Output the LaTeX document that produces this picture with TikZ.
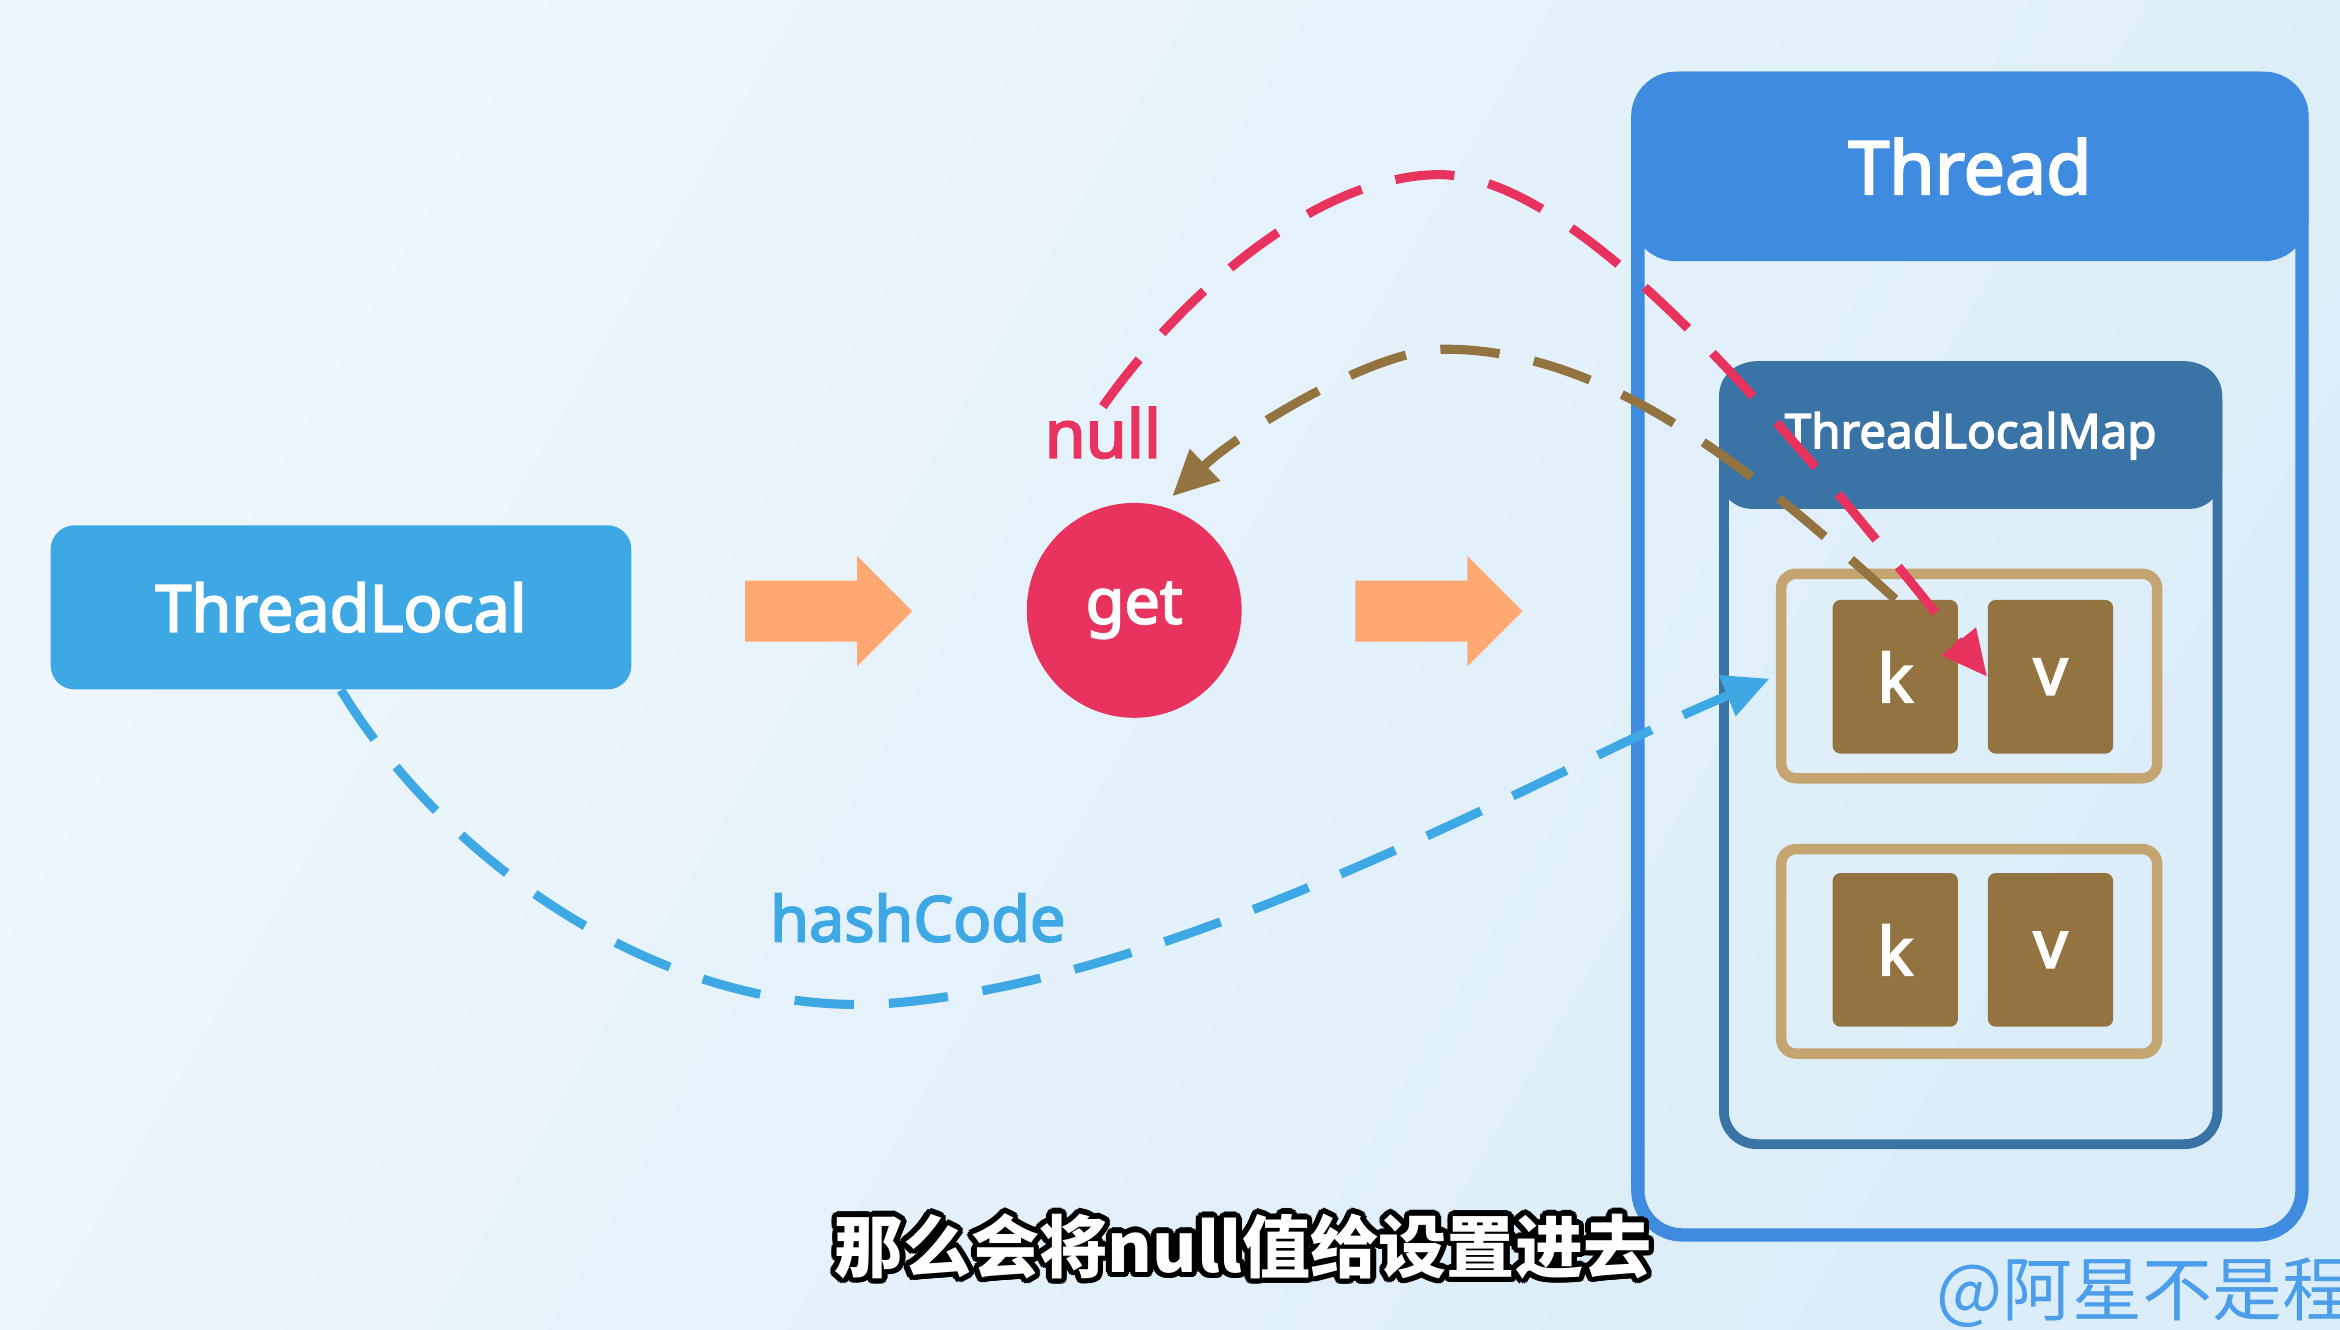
\documentclass[tikz,border=0pt]{standalone}
\usepackage{fontspec}
\setmainfont{Noto Sans}[FakeBold=3]
\newfontfamily\cjk{Noto Sans CJK SC}
\usepackage{contour}
\contourlength{1.6pt}
\usetikzlibrary{arrows.meta,shapes.arrows}

\definecolor{bgl}{HTML}{EEF6FC}
\definecolor{bgr}{HTML}{DBEDF9}
\definecolor{tlblue}{HTML}{3DA8E3}
\definecolor{thblue}{HTML}{3F8BE0}
\definecolor{mapblue}{HTML}{3A74A7}
\definecolor{getred}{HTML}{E8335E}
\definecolor{entrytan}{HTML}{C4A572}
\definecolor{kvbrown}{HTML}{93733F}
\definecolor{flow}{HTML}{FFA872}
\definecolor{markblue}{HTML}{4C9EEA}

\tikzset{
  tlbox/.style={rounded corners=0.24cm, fill=tlblue, text=white, minimum width=5.835cm, minimum height=1.65cm, font=\fontsize{18.5}{20}\selectfont},
  getnode/.style={circle, fill=getred, text=white, minimum size=2.16cm, inner sep=0, font=\fontsize{18}{20}\selectfont},
  flowarrow/.style={single arrow, fill=flow, inner xsep=0, inner ysep=0.3cm, minimum height=1.68cm, minimum width=1.095cm, single arrow head extend=0.2475cm},
  outerbox/.style={draw=thblue, line width=3.8pt, rounded corners=0.45cm},
  outerhead/.style={fill=thblue, rounded corners=0.45cm, text=white, font=\fontsize{21}{24}\selectfont},
  mapbox/.style={draw=mapblue, line width=2.8pt, rounded corners=0.33cm},
  maphead/.style={fill=mapblue, rounded corners=0.33cm, text=white, font=\fontsize{13.6}{16}\selectfont},
  entry/.style={draw=entrytan, line width=3pt, rounded corners=0.15cm, minimum width=3.78cm, minimum height=2.055cm},
  cell/.style={fill=kvbrown, rounded corners=0.08cm, text=white, minimum width=1.26cm, minimum height=1.545cm, font=\fontsize{19}{22}\selectfont},
  link/.style={line width=2.6pt, dash pattern=on 17pt off 10pt, -{Triangle[length=13pt,width=12pt]}},
  redlink/.style={link, draw=getred},
  brownlink/.style={link, draw=kvbrown},
  bluelink/.style={link, draw=tlblue},
  tag/.style={inner sep=0, font=\bfseries\fontsize{19}{22}\selectfont}
}

\begin{document}
\begin{tikzpicture}[x=0.015cm, y=-0.015cm]
  \shade[left color=bgl, right color=bgr, shading angle=60] (0,0) rectangle (1568,891);
  \useasboundingbox (0,0) rectangle (1568,891);

  \node[tlbox] (tl) at (228.5,407) {ThreadLocal};
  \node[flowarrow] (flow1) at (545,409.5) {};
  \node[getnode] (get) at (760,409) {get};
  \node[flowarrow] (flow2) at (954,409.5) {};

  \node[outerbox, minimum width=6.675cm, minimum height=11.625cm] (thread) at (1320,440) {};
  \node[outerhead, minimum width=6.81cm, minimum height=1.905cm] (threadhd) at (1320,111.5) {Thread};
  \node[mapbox, minimum width=4.96cm, minimum height=7.82cm] (map) at (1320.5,506) {};
  \node[maphead, minimum width=5.055cm, minimum height=1.47cm] (maphd) at (1320.5,292) {ThreadLocalMap};

  \node[entry] (e1) at (1319.5,453) {};
  \node[entry] (e2) at (1319.5,637.5) {};
  \node[cell] (k1) at (1270,453.5) {k};
  \node[cell] (v1) at (1374,453.5) {v};
  \node[cell] (k2) at (1270,636.5) {k};
  \node[cell] (v2) at (1374,636.5) {v};

  \node[tag, text=getred] (nulllbl) at (739,290) {null};
  \node[tag, text=tlblue, font=\bfseries\fontsize{18}{21}\selectfont] (hashlbl) at (615,615) {hashCode};

  \coordinate (redtop) at (964,117);
  \coordinate (browntop) at (968,234);
  \coordinate (bluelow) at (600,672);

  \draw[redlink] (nulllbl.north) .. controls (790,200) and (880,118) .. (redtop)
    .. controls (1060,117) and (1200,290) .. (v1.west);
  \draw[brownlink, shorten >=4pt] (k1.north) .. controls (1180,320) and (1080,234) .. (browntop)
    .. controls (920,234) and (830,290) .. (get.75);
  \draw[bluelink, shorten >=2pt] (tl.south) .. controls (300,580) and (450,685) .. (bluelow)
    .. controls (800,655) and (1050,510) .. (e1.west);

  \node[text=white, font=\cjk\bfseries\fontsize{19.5}{22}\selectfont] (sub) at (833,837) {\contour{black}{那么会将null值给设置进去}};
  \node[anchor=west, inner sep=0, text=markblue, font=\cjk\fontsize{20}{24}\selectfont] (mark) at (1297,866) {@阿星不是程};
\end{tikzpicture}
\end{document}
